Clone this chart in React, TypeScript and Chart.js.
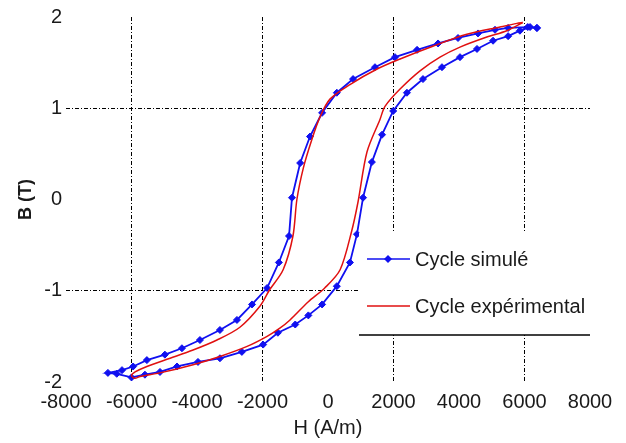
import React, { useEffect, useRef } from "react";
import { Chart, registerables } from "chart.js";

Chart.register(...registerables);

// Simulated cycle (H in A/m, B in T)
const simH = [
  6380, 6100, 5500, 5100, 4580, 3970, 3360, 2720, 2045, 1435, 765, 270, -180, -550, -850, -1100, -1190, -1500,
  -1860, -2320, -2780, -3300, -3910, -4460, -4980, -5530, -5950, -6290, -6720,
  -6450, -6000, -5590, -5130, -4610, -3970, -3300, -2630, -1980, -1530, -1000, -600, -180, 270, 670, 885, 1070,
  1340, 1650, 1990, 2410, 2900, 3480, 4030, 4550, 5040, 5500, 5860, 6170, 6380,
];
const simB = [
  1.88, 1.89, 1.88, 1.86, 1.82, 1.77, 1.71, 1.64, 1.56, 1.45, 1.32, 1.17, 0.95, 0.69, 0.4, 0.02, -0.4, -0.69,
  -0.97, -1.15, -1.32, -1.43, -1.54, -1.63, -1.7, -1.76, -1.83, -1.87, -1.9,
  -1.91, -1.95, -1.92, -1.89, -1.83, -1.78, -1.74, -1.67, -1.59, -1.46, -1.37, -1.27, -1.15, -0.95, -0.69, -0.38,
  0.02, 0.41, 0.71, 0.97, 1.17, 1.32, 1.45, 1.56, 1.65, 1.74, 1.79, 1.85, 1.89, 1.88,
];

// Experimental cycle
const expH = [
  5950, 5770, 5250, 4240, 3200, 2200, 1500, 670, 60, -250, -500, -750, -950, -1070, -1370, -1800, -2080, -2690,
  -3390, -4120, -4820, -5530, -5890, -6000,
  -5900, -5740, -5130, -4120, -3300, -2470, -1860, -1470, -1160, -600, -100, 370, 720, 915, 1190, 1590, 1740,
  2200, 2810, 3420, 4030, 4850, 5460, 5950,
];
const expB = [
  1.94, 1.93, 1.89, 1.81, 1.68, 1.54, 1.43, 1.26, 1.1, 0.9, 0.65, 0.35, 0.0, -0.4, -0.77, -1.0, -1.17, -1.4,
  -1.54, -1.65, -1.74, -1.83, -1.89, -1.93,
  -1.96, -1.94, -1.9, -1.81, -1.72, -1.61, -1.5, -1.41, -1.32, -1.12, -0.97, -0.77, -0.35, -0.03, 0.52, 0.88, 1.02,
  1.21, 1.41, 1.56, 1.67, 1.78, 1.85, 1.94,
];

const xTicks = [-8000, -6000, -4000, -2000, 0, 2000, 4000, 6000, 8000];
const yTicks = [-2, -1, 0, 1, 2];
const xGridAt = [-6000, -2000, 2000, 6000];
const yGridAt = [-1, 1];
const seriesNames = ["Cycle simulé", "Cycle expérimental"];

const FONT = "'Liberation Sans', Arial, sans-serif";
const BLUE = "#1010f0";
const RED = "#e01010";

const legendPlugin = {
  id: "customLegend",
  afterDatasetsDraw(chart: any) {
    const { ctx } = chart;
    ctx.save();
    ctx.fillStyle = "#ffffff";
    ctx.fillRect(359, 233, 231, 102);
    ctx.strokeStyle = "#000";
    ctx.lineWidth = 1.5;
    ctx.beginPath();
    ctx.moveTo(359, 335);
    ctx.lineTo(590, 335);
    ctx.stroke();
    // simulated sample
    ctx.strokeStyle = BLUE;
    ctx.lineWidth = 1.5;
    ctx.beginPath();
    ctx.moveTo(367, 259);
    ctx.lineTo(410, 259);
    ctx.stroke();
    ctx.fillStyle = BLUE;
    ctx.beginPath();
    ctx.moveTo(388, 255);
    ctx.lineTo(392, 259);
    ctx.lineTo(388, 263);
    ctx.lineTo(384, 259);
    ctx.closePath();
    ctx.fill();
    // experimental sample
    ctx.strokeStyle = RED;
    ctx.beginPath();
    ctx.moveTo(367, 306);
    ctx.lineTo(410, 306);
    ctx.stroke();
    ctx.fillStyle = "#1a1a1a";
    ctx.font = "20px " + FONT;
    ctx.textBaseline = "middle";
    ctx.textAlign = "left";
    ctx.fillText(seriesNames[0], 415, 260);
    ctx.fillText(seriesNames[1], 415, 307);
    ctx.restore();
  },
};

export default function App() {
  const ref = useRef<HTMLCanvasElement>(null);
  useEffect(() => {
    document.body.style.margin = "0";
    const sim = simH.map((h, i) => ({ x: h, y: simB[i] }));
    const exp = expH.map((h, i) => ({ x: h, y: expB[i] }));
    const chart = new Chart(ref.current!, {
      type: "scatter",
      data: {
        datasets: [
          {
            label: seriesNames[1],
            data: exp,
            showLine: true,
            borderColor: RED,
            borderWidth: 1.5,
            pointRadius: 0,
            tension: 0.3,
          },
          {
            label: seriesNames[0],
            data: sim,
            showLine: true,
            borderColor: BLUE,
            backgroundColor: BLUE,
            borderWidth: 1.8,
            pointStyle: "rectRot",
            pointRadius: 3.5,
            pointBorderWidth: 1,
            tension: 0,
          },
        ],
      },
      plugins: [legendPlugin],
      options: {
        responsive: false,
        animation: false,
        layout: { padding: { top: 17, right: 36, left: 0, bottom: 0 } },
        plugins: { legend: { display: false }, tooltip: { enabled: false } },
        scales: {
          x: {
            type: "linear",
            min: -8000,
            max: 8000,
            afterBuildTicks: (s: any) => {
              s.ticks = xTicks.map((v) => ({ value: v }));
            },
            afterFit: (s: any) => {
              s.height = 61;
            },
            grid: {
              drawTicks: false,
              lineWidth: 1,
              color: (c: any) => (xGridAt.includes(c.tick?.value) ? "#000" : "rgba(0,0,0,0)"),
            },
            border: { display: false, dash: [4, 2, 1, 2] },
            ticks: {
              padding: 8,
              color: "#1a1a1a",
              font: { family: FONT, size: 20 },
              maxRotation: 0,
              autoSkip: false,
              callback: (v: any) => String(v),
            },
            title: {
              display: true,
              text: "H (A/m)",
              color: "#1a1a1a",
              font: { family: FONT, size: 20 },
              padding: { top: 0, bottom: 3 },
            },
          },
          y: {
            type: "linear",
            min: -2,
            max: 2,
            afterBuildTicks: (s: any) => {
              s.ticks = yTicks.map((v) => ({ value: v }));
            },
            afterFit: (s: any) => {
              s.width = 66;
            },
            grid: {
              drawTicks: false,
              lineWidth: 1,
              color: (c: any) => (yGridAt.includes(c.tick?.value) ? "#000" : "rgba(0,0,0,0)"),
            },
            border: { display: false, dash: [4, 2, 1, 2] },
            ticks: {
              padding: 4,
              color: "#1a1a1a",
              font: { family: FONT, size: 20 },
              autoSkip: false,
              callback: (v: any) => String(v),
            },
            title: {
              display: true,
              text: "B (T)",
              color: "#1a1a1a",
              font: { family: FONT, size: 18, weight: "bold" },
              padding: { top: 15, bottom: 0 },
            },
          },
        },
      },
    });
    return () => chart.destroy();
  }, []);
  return <canvas ref={ref} width={626} height={443} style={{ display: "block" }} />;
}
